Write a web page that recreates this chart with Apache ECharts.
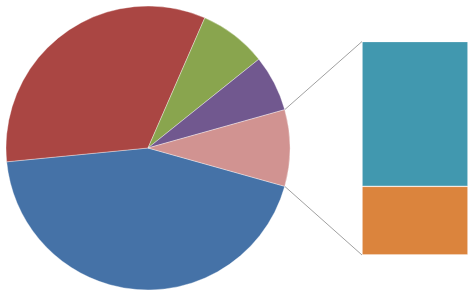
<!DOCTYPE html>
<html><head><meta charset="utf-8">
<script src="https://cdn.jsdelivr.net/npm/echarts@6/dist/echarts.min.js"></script>
<style>html,body{margin:0;padding:0;background:#fff}#c{width:476px;height:296px}</style>
</head><body><div id="c"></div>
<script>
// Main pie slices (clockwise from the right), last one is the "other" group
const pieNames = ['A', 'B', 'C', 'D'];
const pieValues = [44.1, 33.1, 7.7, 6.4];
const pieColors = ['#4572A7', '#AA4643', '#89A54E', '#71588F'];
const otherColor = '#D19391';
// Breakdown of "other" shown in the bar (bottom to top)
const barNames = ['F', 'E'];
const barValues = [2.8, 5.9];
const barColors = ['#DB843D', '#4198AF'];

const cx = 148, cy = 148, R = 142;
const gridL = 362, gridT = 41.5, gridW = 106, gridH = 213.5;

const otherVal = barValues.reduce((a, b) => a + b, 0);
const total = pieValues.reduce((a, b) => a + b, 0) + otherVal;
const half = otherVal / total * 180;

const pieData = pieNames.map((n, i) => ({ name: n, value: pieValues[i], itemStyle: { color: pieColors[i] } }));
pieData.push({ name: 'Other', value: otherVal, itemStyle: { color: otherColor } });

const chart = echarts.init(document.getElementById('c'), null, { renderer: 'canvas' });
const rad = half * Math.PI / 180;
const p1 = [cx + R * Math.cos(rad), cy - R * Math.sin(rad)];
const p2 = [cx + R * Math.cos(rad), cy + R * Math.sin(rad)];

chart.setOption({
  animation: false,
  grid: { left: gridL, top: gridT, width: gridW, height: gridH, containLabel: false },
  xAxis: { type: 'category', data: ['x'], show: false },
  yAxis: { type: 'value', min: 0, max: otherVal, show: false },
  series: [
    {
      type: 'pie', center: [cx, cy], radius: R, startAngle: -half, clockwise: true,
      label: { show: false }, labelLine: { show: false },
      itemStyle: { borderColor: 'rgba(255,255,255,0.45)', borderWidth: 0.8 },
      emphasis: { disabled: true },
      data: pieData
    },
    ...barNames.map((n, i) => ({
      type: 'bar', name: n, stack: 's', barWidth: '100%', data: [barValues[i]],
      itemStyle: { color: barColors[i], borderColor: 'rgba(255,255,255,0.35)', borderWidth: 0.8 },
      emphasis: { disabled: true }
    }))
  ],
  graphic: [
    { type: 'line', shape: { x1: p1[0], y1: p1[1], x2: gridL, y2: gridT }, style: { stroke: '#777', lineWidth: 0.7 } },
    { type: 'line', shape: { x1: p2[0], y1: p2[1], x2: gridL, y2: gridT + gridH }, style: { stroke: '#777', lineWidth: 0.7 } }
  ]
});
</script></body></html>
